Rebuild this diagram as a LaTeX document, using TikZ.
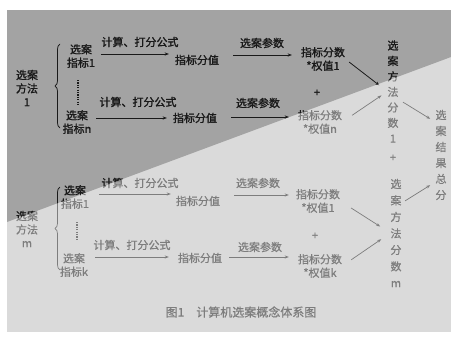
\documentclass[tikz,border=0pt]{standalone}
\usepackage{fontspec}
\newfontfamily\cjk[FakeBold=0.6]{Noto Sans CJK SC}
\usetikzlibrary{arrows.meta,decorations.pathreplacing}
\definecolor{bgdark}{RGB}{163,163,163}
\definecolor{bglight}{RGB}{218,218,218}
\definecolor{inkdark}{RGB}{25,25,25}
\definecolor{inklight}{RGB}{125,125,125}
\tikzset{
  lbl/.style={font=\cjk\fontsize{11}{13.5}\selectfont, inner sep=0pt, align=center},
  vcolA/.style={font=\cjk\fontsize{11}{15.5}\selectfont, inner sep=0pt, align=center},
  vcolB/.style={font=\cjk\fontsize{11}{16.5}\selectfont, inner sep=0pt, align=center},
  vcolR/.style={font=\cjk\fontsize{11}{16}\selectfont, inner sep=0pt, align=center},
  arr/.style={-{Stealth[length=4pt,width=3pt]}, line width=0.7pt},
  brc/.style={decorate, decoration={brace,amplitude=5pt}, line width=0.7pt},
  dotv/.style={line width=1.5pt, dash pattern=on 1.2pt off 1.2pt},
}
\newcommand\diagbody{%
  % ---------- group 1 ----------
  \node[lbl] (m1) at (27,88) {选案\\方法\\1};
  \coordinate (b1t) at (60,44);
  \coordinate (b1b) at (60,128);
  \draw[brc] (b1b) -- (b1t);
  \node[lbl] (i1a) at (81,56) {选案\\指标1};
  \node[lbl] (f1a) at (140,42) {计算、打分公式};
  \node[lbl] (v1a) at (197,60) {指标分值};
  \draw[arr, shorten <=5.5pt, shorten >=6pt] (i1a.east |- 0,54) -- (v1a.west |- 0,54);
  \node[lbl] (p1a) at (262,43) {选案参数};
  \node[lbl] (s1a) at (323,59) {指标分数\\*权值1};
  \draw[arr, shorten <=14pt, shorten >=9pt] (v1a.east |- 0,55) -- (s1a.west |- 0,55);
  \coordinate (d1t) at (78,80);
  \coordinate (d1b) at (78,106);
  \draw[dotv] (d1t) -- (d1b);
  \node[lbl] (i1n) at (77,122) {选案\\指标n};
  \node[lbl] (f1n) at (138,102) {计算、打分公式};
  \node[lbl] (v1n) at (195,118) {指标分值};
  \draw[arr, shorten <=4.5pt, shorten >=6pt] (i1n.east |- 0,118) -- (v1n.west |- 0,118);
  \node[lbl] (p1n) at (258,103) {选案参数};
  \node[lbl] (s1n) at (320,122) {指标分数\\*权值n};
  \draw[arr, shorten <=14pt, shorten >=9pt] (v1n.east |- 0,117) -- (s1n.west |- 0,117);
  \node[lbl] (pl1) at (317,93) {+};
  \node[vcolA] (c1) at (393,91.5) {选\\案\\方\\法\\分\\数\\1};
  \draw[arr, shorten <=5pt, shorten >=10pt] (s1a.east) -- (c1.west);
  \draw[arr, shorten <=12pt, shorten >=7pt] (s1n.east) -- (c1.west);
  \node[lbl] (pl2) at (393,158) {+};
  % ---------- group 2 ----------
  \node[lbl] (m2) at (27,229) {选案\\方法\\m};
  \coordinate (b2t) at (60,187);
  \coordinate (b2b) at (60,270);
  \draw[brc] (b2b) -- (b2t);
  \node[lbl] (i2a) at (75,197) {选案\\指标1};
  \node[lbl] (f2a) at (140,183) {计算、打分公式};
  \node[lbl] (v2a) at (198,201) {指标分值};
  \draw[arr, shorten <=10pt, shorten >=5pt] (i2a.east |- 0,194) -- (v2a.west |- 0,194);
  \node[lbl] (p2a) at (258,183) {选案参数};
  \node[lbl] (s2a) at (318,201) {指标分数\\*权值1};
  \draw[arr, shorten <=14pt, shorten >=7pt] (v2a.east |- 0,195) -- (s2a.west |- 0,195);
  \coordinate (d2t) at (77,222);
  \coordinate (d2b) at (77,240);
  \draw[dotv] (d2t) -- (d2b);
  \node[lbl] (i2k) at (74,265) {选案\\指标k};
  \node[lbl] (f2k) at (132,245) {计算、打分公式};
  \node[lbl] (v2k) at (200,258) {指标分值};
  \draw[arr, shorten <=7pt, shorten >=9pt] (i2k.east |- 0,257) -- (v2k.west |- 0,257);
  \node[lbl] (p2k) at (260,247) {选案参数};
  \node[lbl] (s2k) at (320,266) {指标分数\\*权值k};
  \draw[arr, shorten <=7pt, shorten >=9pt] (v2k.east |- 0,257) -- (s2k.west |- 0,257);
  \node[lbl] (pl3) at (315,236) {+};
  \node[vcolB] (c2) at (396,233) {选\\案\\方\\法\\分\\数\\m};
  \draw[arr, shorten <=13pt, shorten >=12pt] (s2a.east) -- (c2.west);
  \draw[arr, shorten <=11pt, shorten >=11pt] (s2k.east) -- (c2.west);
  % ---------- result ----------
  \node[vcolR] (r) at (441,155) {选\\案\\结\\果\\总\\分};
  \draw[arr, shorten <=5pt, shorten >=6pt] ([yshift=-8pt]c1.east) -- ([yshift=33pt]r.west);
  \draw[arr, shorten <=4pt, shorten >=6pt] ([yshift=30pt]c2.east) -- ([yshift=-27pt]r.west);
}
\begin{document}
\begin{tikzpicture}[x=1pt,y=-1pt]
  \fill[white] (0,0) rectangle (451,340);
  \useasboundingbox (0,0) rectangle (451,340);
  \fill[bglight] (7,10) rectangle (451,332);
  \fill[bgdark] (7,10) -- (451,10) -- (451,57) -- (7,222) -- cycle;
  \begin{scope}[color=inklight]
    \diagbody
  \end{scope}
  \begin{scope}
    \clip (7,10) -- (451,10) -- (451,57) -- (7,222) -- cycle;
    \begin{scope}[color=inkdark, name prefix=d-]
      \diagbody
    \end{scope}
  \end{scope}
  \node[lbl, color=inklight, font=\cjk\fontsize{12}{14}\selectfont] (cap) at (241,312) {图1\hspace{12pt}计算机选案概念体系图};
\end{tikzpicture}
\end{document}
